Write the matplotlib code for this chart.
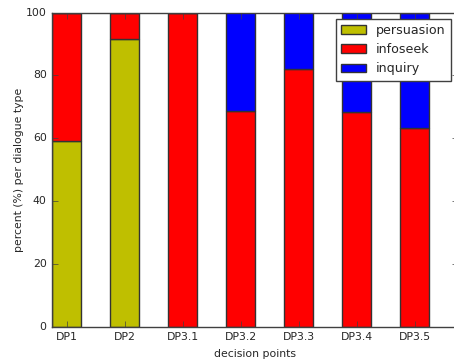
import numpy as np
import matplotlib
matplotlib.use("Agg")
import matplotlib.pyplot as plt

# data
labels = ["DP1", "DP2", "DP3.1", "DP3.2", "DP3.3", "DP3.4", "DP3.5"]
persuasion = [59.0, 91.7, 0, 0, 0, 0, 0]
infoseek = [41.0, 8.3, 100.0, 68.7, 82.0, 68.2, 63.3]
inquiry = [0, 0, 0, 31.3, 18.0, 31.8, 36.7]

plt.style.use("classic")
plt.rcParams["text.color"] = "#262626"
plt.rcParams["xtick.color"] = "#404040"
plt.rcParams["ytick.color"] = "#404040"
plt.rcParams["axes.edgecolor"] = "#404040"
plt.rcParams["axes.labelcolor"] = "#262626"

fig = plt.figure(figsize=(4.54, 3.6), dpi=100)
fig.patch.set_facecolor("white")
# axes run past the right edge, as in the (cropped) reference
ax = fig.add_axes([52.3 / 454, 33.3 / 360, 406 / 454, 314.2 / 360])

x = np.arange(len(labels))
w = 0.5
p = np.array(persuasion)
i = np.array(infoseek)
q = np.array(inquiry)
ec = "#333333"
ax.bar(x, p, w, color="y", edgecolor=ec, label="persuasion")
ax.bar(x, i, w, bottom=p, color="r", edgecolor=ec, label="infoseek")
ax.bar(x, q, w, bottom=p + i, color="b", edgecolor=ec, label="inquiry")

ax.set_xlim(-0.25, 6.75)
ax.set_ylim(0, 100)
ax.set_xticks(x)
ax.set_xticklabels(labels)
ax.set_yticks(range(0, 101, 20))
ax.tick_params(labelsize=7.8, labelcolor="#262626")
ax.set_xlabel("decision points", fontsize=7.8)
ax.set_ylabel("percent (%) per dialogue type", fontsize=7.8, labelpad=1)

leg = ax.legend(loc="upper left", bbox_to_anchor=(0.698, 0.98),
                fontsize=9.1, handlelength=2.0, borderaxespad=0.0)

fig.savefig("out.png", dpi=100, facecolor="white")
